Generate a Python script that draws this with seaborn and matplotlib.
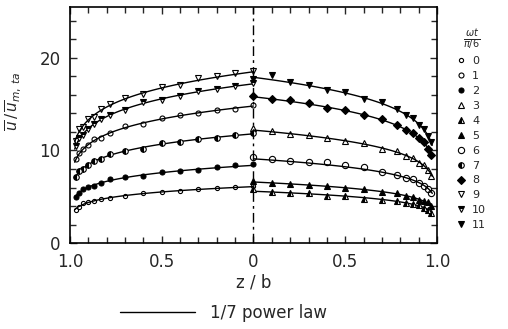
import numpy as np
import pandas as pd
import seaborn as sns
import matplotlib
matplotlib.use("Agg")
import matplotlib.pyplot as plt
from matplotlib.lines import Line2D
from matplotlib.ticker import MultipleLocator, FuncFormatter

# distance from the centre line, same grid on both halves
z_pts = [0.0, 0.1, 0.2, 0.3, 0.4, 0.5, 0.6, 0.7, 0.78, 0.83, 0.87, 0.9, 0.93, 0.95, 0.97]

# centre-line values used for the 1/7 power law curves
um_left = [18.5, 17.2, 14.8, 11.8, 8.4, 6.1]
um_right = [17.9, 15.8, 12.2, 9.1, 6.6, 5.6]

# phase shown in each half profile (top to bottom)
phase_left = [9, 10, 1, 7, 2, 0]
phase_right = [11, 8, 3, 6, 5, 4]

u_left = [
    [18.6, 18.4, 18.0, 17.8, 17.1, 16.9, 16.1, 15.7, 15.0, 14.5, 13.6, 13.4, 12.5, 12.3, 11.0],
    [17.3, 17.0, 16.6, 16.4, 15.9, 15.5, 15.2, 14.4, 13.8, 13.4, 12.9, 12.3, 11.7, 11.3, 10.5],
    [14.9, 14.5, 14.4, 14.0, 13.8, 13.5, 12.9, 12.6, 11.9, 11.4, 11.2, 10.6, 10.2, 9.7, 9.1],
    [11.9, 11.7, 11.3, 11.2, 10.9, 10.8, 10.2, 9.9, 9.6, 9.1, 8.9, 8.4, 8.0, 7.8, 7.1],
    [8.5, 8.4, 8.2, 7.9, 7.8, 7.7, 7.3, 7.1, 6.9, 6.5, 6.2, 6.1, 5.8, 5.4, 5.0],
    [6.2, 6.1, 5.9, 5.8, 5.6, 5.5, 5.4, 5.1, 4.9, 4.8, 4.5, 4.4, 4.3, 3.9, 3.6],
]
u_right = [
    [17.7, 18.1, 17.4, 17.1, 16.5, 16.3, 15.6, 15.2, 14.5, 13.8, 13.5, 12.8, 12.3, 11.6, 10.9],
    [15.9, 15.6, 15.4, 15.1, 14.6, 14.4, 13.8, 13.4, 12.8, 12.2, 11.9, 11.3, 10.9, 10.2, 9.5],
    [12.4, 12.1, 11.8, 11.7, 11.4, 11.0, 10.8, 10.2, 9.9, 9.4, 9.2, 8.7, 8.4, 7.9, 7.3],
    [9.3, 9.1, 8.9, 8.8, 8.8, 8.4, 8.2, 7.7, 7.4, 7.0, 6.9, 6.5, 6.2, 5.8, 5.4],
    [6.7, 6.5, 6.4, 6.3, 6.2, 5.9, 5.8, 5.5, 5.4, 5.1, 5.0, 4.7, 4.5, 4.4, 4.0],
    [5.8, 5.5, 5.4, 5.4, 5.1, 5.1, 4.8, 4.7, 4.6, 4.3, 4.2, 4.1, 3.8, 3.6, 3.3],
]

# marker look for each phase 0..11
phase_style = {
    0: dict(marker="o", ms=3.0, fillstyle="none"),
    1: dict(marker="o", ms=3.6, fillstyle="none"),
    2: dict(marker="o", ms=3.6, fillstyle="full"),
    3: dict(marker="^", ms=4.0, fillstyle="none"),
    4: dict(marker="^", ms=4.0, fillstyle="left"),
    5: dict(marker="^", ms=4.0, fillstyle="full"),
    6: dict(marker="o", ms=4.5, fillstyle="none"),
    7: dict(marker="o", ms=4.0, fillstyle="left"),
    8: dict(marker="D", ms=3.6, fillstyle="full"),
    9: dict(marker="v", ms=4.5, fillstyle="none"),
    10: dict(marker="v", ms=4.5, fillstyle="top"),
    11: dict(marker="v", ms=4.5, fillstyle="full"),
}

sns.set_style("ticks")
plt.rcParams["font.family"] = ["DejaVu Sans"]
plt.rcParams["mathtext.fontset"] = "dejavusans"

fig = plt.figure(figsize=(5.08, 3.29), dpi=100)
ax = fig.add_axes([0.138, 0.261, 0.722, 0.718])

# power law lines
zz = np.linspace(0, 0.975, 120)
rows = []
for k in range(6):
    for side, um in ((-1, um_left[k]), (1, um_right[k])):
        for z in zz:
            rows.append({"x": side * z, "u": um * (1 - z) ** (1 / 7), "prof": f"{side}_{k}"})
lines = pd.DataFrame(rows)
sns.lineplot(data=lines, x="x", y="u", units="prof", estimator=None,
             color="black", lw=1.0, sort=False, ax=ax, legend=False)

# measured points
for k in range(6):
    for side, vals, ph in ((-1, u_left[k], phase_left[k]), (1, u_right[k], phase_right[k])):
        st = phase_style[ph]
        ax.plot([side * z for z in z_pts], vals, ls="none", marker=st["marker"],
                ms=st["ms"], fillstyle=st["fillstyle"], color="black",
                mfc="black" if st["fillstyle"] != "none" else "white",
                mfcalt="white", mec="black", mew=0.8, zorder=3)

ax.axvline(0, color="black", lw=1.0, ls=(0, (7, 3, 2, 3)))

ax.set_xlim(-1, 1)
ax.set_ylim(0, 25.5)
ax.xaxis.set_major_locator(MultipleLocator(0.5))
ax.xaxis.set_minor_locator(MultipleLocator(0.1))
ax.xaxis.set_major_formatter(FuncFormatter(lambda v, p: "0" if abs(v) < 1e-9 else f"{abs(v):.1f}"))
ax.yaxis.set_major_locator(MultipleLocator(10))
ax.yaxis.set_minor_locator(MultipleLocator(2))
ax.tick_params(which="both", direction="in", top=True, right=True, labelsize=12, pad=7, width=1)
ax.tick_params(which="major", length=5)
ax.tick_params(which="minor", length=4)
for s in ax.spines.values():
    s.set_linewidth(1.2)
    s.set_color("black")

ax.set_xlabel("z / b", fontsize=12, labelpad=2)
ax.set_ylabel(r"$\overline{u}\,/\,\overline{u}_{m,\,ta}$", fontsize=11)
ax.yaxis.set_label_coords(-0.125, 0.6)

handles = []
for ph in range(12):
    st = phase_style[ph]
    handles.append(Line2D([], [], ls="none", marker=st["marker"], ms=st["ms"],
                          fillstyle=st["fillstyle"], color="black",
                          mfc="black" if st["fillstyle"] != "none" else "white",
                          mfcalt="white", mec="black", mew=0.8))
leg = fig.legend(handles, [str(i) for i in range(12)], title=r"$\frac{\omega t}{\pi/6}$",
                 loc="upper left", bbox_to_anchor=(0.89, 0.93), frameon=False,
                 fontsize=8, title_fontsize=10, handlelength=0.8, handletextpad=0.6,
                 labelspacing=0.44, borderaxespad=0)

fig.legend([Line2D([], [], color="black", lw=1.0)], ["1/7 power law"],
           loc="center", bbox_to_anchor=(0.44, 0.05), frameon=False, fontsize=12,
           handlelength=4.5, handletextpad=0.9)

fig.savefig("out.png", dpi=100)
